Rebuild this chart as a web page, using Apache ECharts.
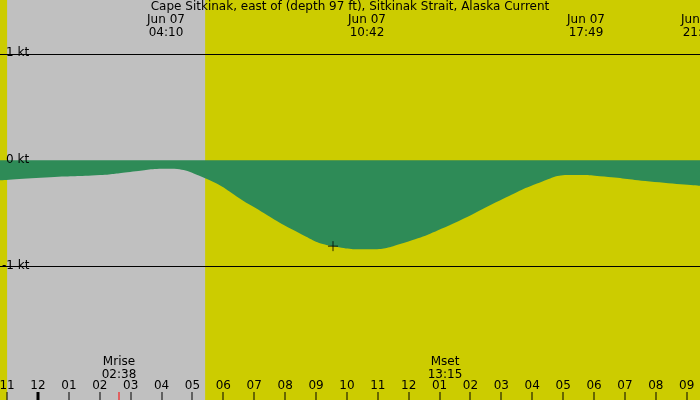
<!doctype html>
<html>
<head>
<meta charset="UTF-8">
<script src="https://cdn.jsdelivr.net/npm/echarts@6/dist/echarts.min.js"></script>
<style>body{margin:0}#c{width:700px;height:400px}</style>
</head>
<body>
<div id="c"></div>
<script>
// hours since Jun 06 00:00
var hours = [22.77, 24.39, 26.01, 26.98, 28.11, 29.41, 30.86, 32.48, 33.55, 34.75, 35.72, 37.34, 38.95, 40.25, 41.22, 42.19, 43.81, 45.43];
var knots = [-0.19, -0.16, -0.14, -0.11, -0.08, -0.17, -0.42, -0.69, -0.81, -0.84, -0.79, -0.61, -0.38, -0.21, -0.14, -0.15, -0.20, -0.24];
var tickHours = [];
for (var h = 23; h <= 45; h++) tickHours.push(h);
var nightStart = 23.0, nightEnd = 29.41;
var moonrise = 26.63;

function hourLabel(h) {
	var v = h % 12;
	if (v == 0) v = 12;
	return (v < 10 ? '0' : '') + v;
}

var chart = echarts.init(document.getElementById('c'));
chart.setOption({
	animation: false,
	backgroundColor: '#cccc00',
	grid: {left: 0, right: 0, top: 0, bottom: 0},
	xAxis: {type: 'value', min: 22.77, max: 45.43, show: false},
	yAxis: {type: 'value', min: -2.26, max: 1.51, show: false},
	textStyle: {fontFamily: 'DejaVu Sans'},
	graphic: [
		{type: 'text', left: 'center', top: 1, style: {text: 'Cape Sitkinak, east of (depth 97 ft), Sitkinak Strait, Alaska Current', font: '12px DejaVu Sans', fill: '#000'}, z: 100},
		{type: 'text', x: 166, y: 13, style: {text: 'Jun 07\n04:10', align: 'center', font: '12px DejaVu Sans', fill: '#000', lineHeight: 13}, z: 100},
		{type: 'text', x: 367, y: 13, style: {text: 'Jun 07\n10:42', align: 'center', font: '12px DejaVu Sans', fill: '#000', lineHeight: 13}, z: 100},
		{type: 'text', x: 586, y: 13, style: {text: 'Jun 07\n17:49', align: 'center', font: '12px DejaVu Sans', fill: '#000', lineHeight: 13}, z: 100},
		{type: 'text', x: 700, y: 13, style: {text: 'Jun 07\n21:03', align: 'center', font: '12px DejaVu Sans', fill: '#000', lineHeight: 13}, z: 100},
		{type: 'text', x: 119, y: 355, style: {text: 'Mrise\n02:38', align: 'center', font: '12px DejaVu Sans', fill: '#000', lineHeight: 13}, z: 100},
		{type: 'text', x: 445, y: 355, style: {text: 'Mset\n13:15', align: 'center', font: '12px DejaVu Sans', fill: '#000', lineHeight: 13}, z: 100},
		{type: 'text', x: 6, y: 47, style: {text: '1 kt', font: '12px DejaVu Sans', fill: '#000'}, z: 100},
		{type: 'text', x: 6, y: 154, style: {text: '0 kt', font: '12px DejaVu Sans', fill: '#000'}, z: 100},
		{type: 'text', x: 2, y: 260, style: {text: '-1 kt', font: '12px DejaVu Sans', fill: '#000'}, z: 100}
	],
	series: [{
		type: 'line',
		smooth: 0.5,
		symbol: 'none',
		data: hours.map(function(h, i) { return [h, knots[i]]; }),
		lineStyle: {width: 0},
		areaStyle: {color: '#2e8b57', opacity: 1, origin: 0},
		z: 3,
		markArea: {silent: true, itemStyle: {color: '#c0c0c0'}, data: [[{xAxis: nightStart}, {xAxis: nightEnd}]]},
		markLine: {
			silent: true, symbol: 'none', label: {show: false},
			lineStyle: {color: '#000', width: 1, type: 'solid'},
			data: [{yAxis: 1}, {yAxis: -1}]
		}
	}, {
		type: 'scatter',
		symbol: 'path://M0,5L10,5M5,0L5,10',
		symbolSize: 10,
		itemStyle: {color: 'none', borderColor: '#000', borderWidth: 1},
		data: [[33.55, -0.81]],
		z: 10
	}, {
		type: 'custom',
		z: 20,
		data: tickHours,
		renderItem: function(params, api) {
			var h = api.value(0);
			var p = api.coord([h, 0]);
			var mid = (h % 24 == 0);
			return {type: 'group', children: [
				{type: 'rect', shape: {x: Math.round(p[0]) - (mid ? 1.5 : 0.5), y: 392, width: mid ? 3 : 1, height: 8}, style: {fill: '#000'}},
				{type: 'text', style: {text: hourLabel(h), x: p[0], y: 380, align: 'center', font: '12px DejaVu Sans', fill: '#000'}}
			]};
		}
	}, {
		type: 'custom',
		z: 20,
		data: [moonrise],
		renderItem: function(params, api) {
			var p = api.coord([api.value(0), 0]);
			return {type: 'rect', shape: {x: Math.round(p[0]) - 0.5, y: 392, width: 1, height: 8}, style: {fill: '#ff0000'}};
		}
	}]
});
</script>
</body>
</html>
